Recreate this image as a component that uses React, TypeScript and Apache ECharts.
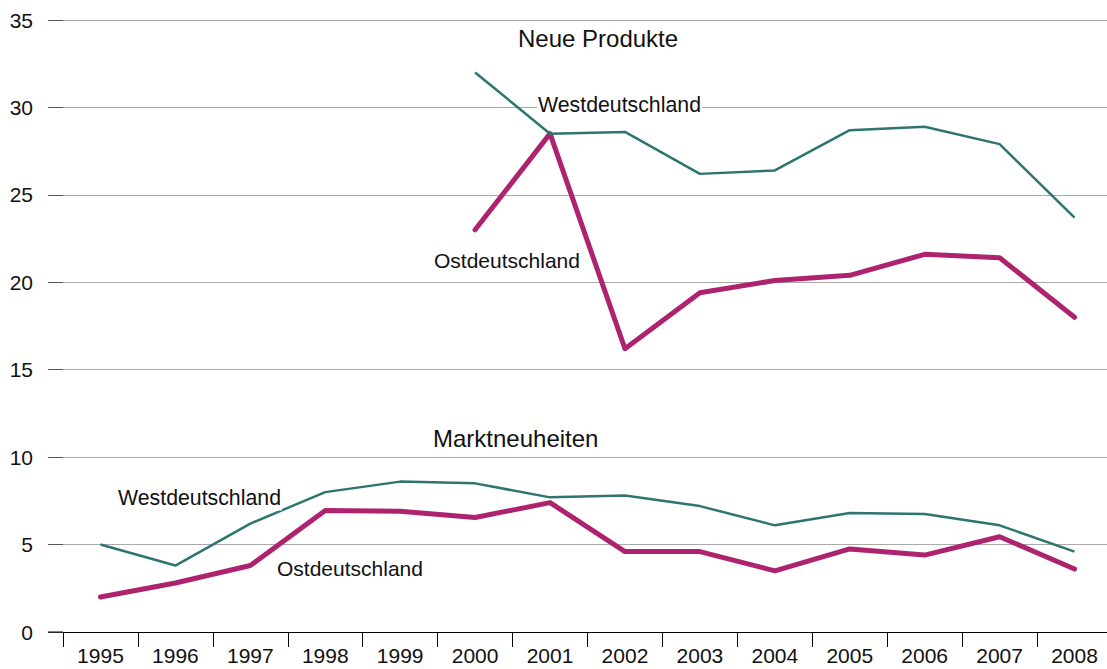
import React, { useEffect, useRef } from "react";
import * as echarts from "echarts";

const years = ["1995","1996","1997","1998","1999","2000","2001","2002","2003","2004","2005","2006","2007","2008"];
const westNeue = [null,null,null,null,null,32.0,28.5,28.6,26.2,26.4,28.7,28.9,27.9,23.7];
const ostNeue = [null,null,null,null,null,23.0,28.5,16.2,19.4,20.1,20.4,21.6,21.4,18.0];
const westMarkt = [5.0,3.8,6.2,8.0,8.6,8.5,7.7,7.8,7.2,6.1,6.8,6.75,6.1,4.6];
const ostMarkt = [2.0,2.8,3.8,6.95,6.9,6.55,7.4,4.6,4.6,3.5,4.75,4.4,5.45,3.6];
const yTicks = [0, 35, 5];

const TEAL = "#2e7471";
const MAG = "#ad236e";
const FAM = '"Liberation Sans", Arial, sans-serif';

export default function App() {
  const ref = useRef<HTMLDivElement>(null);
  useEffect(() => {
    document.body.style.margin = "0";
    const chart = echarts.init(ref.current!, null, { renderer: "svg" });
    const lbl = (text: string, x: number, y: number, size = 21, bg = false) => ({
      type: "text",
      x,
      y,
      z: 100,
      style: {
        text,
        font: `${size}px ${FAM}`,
        fill: "#111",
        align: "left",
        verticalAlign: "middle",
        backgroundColor: bg ? "#fff" : undefined,
        padding: bg ? [2, 1, 2, 1] : 0,
      },
    });
    chart.setOption({
      animation: false,
      grid: { left: 63, right: 0, top: 20, bottom: 37 },
      xAxis: {
        type: "category",
        data: years,
        boundaryGap: true,
        axisLine: { show: true, lineStyle: { color: "#000", width: 1 } },
        axisTick: { show: true, interval: 0, alignWithLabel: false, length: 15, lineStyle: { color: "#000" } },
        axisLabel: { color: "#111", fontSize: 21, fontFamily: "Liberation Sans", margin: 13, interval: 0 },
        splitLine: { show: false },
      },
      yAxis: {
        type: "value",
        min: yTicks[0],
        max: yTicks[1],
        interval: yTicks[2],
        axisLine: { show: false },
        axisTick: { show: true, length: 15, lineStyle: { color: "#555" } },
        axisLabel: { color: "#111", fontSize: 21, fontFamily: "Liberation Sans", margin: 30 },
        splitLine: { lineStyle: { color: "#aaa", width: 1 } },
      },
      series: [
        { type: "line", data: westNeue, symbol: "none", lineStyle: { color: TEAL, width: 2.5 }, z: 3 },
        { type: "line", data: ostNeue, symbol: "none", lineStyle: { color: MAG, width: 5, cap: "round", join: "round" }, z: 2 },
        { type: "line", data: westMarkt, symbol: "none", lineStyle: { color: TEAL, width: 2.5 }, z: 3 },
        { type: "line", data: ostMarkt, symbol: "none", lineStyle: { color: MAG, width: 5, cap: "round", join: "round" }, z: 2 },
      ],
      graphic: [
        { type: "line", z: 100, shape: { x1: 48, y1: 632, x2: 63, y2: 632 }, style: { stroke: "#000", lineWidth: 1 } },
        lbl("Neue Produkte", 518, 38, 24),
        lbl("Westdeutschland", 537, 105, 21.3, true),
        lbl("Ostdeutschland", 434, 260),
        lbl("Marktneuheiten", 433, 438, 24),
        lbl("Westdeutschland", 117, 498, 21.3, true),
        lbl("Ostdeutschland", 277, 568),
      ],
    });
    return () => chart.dispose();
  }, []);
  return (
    <div style={{ width: 1107, height: 669, overflow: "hidden" }}>
      <div ref={ref} style={{ width: 1112, height: 669 }} />
    </div>
  );
}
